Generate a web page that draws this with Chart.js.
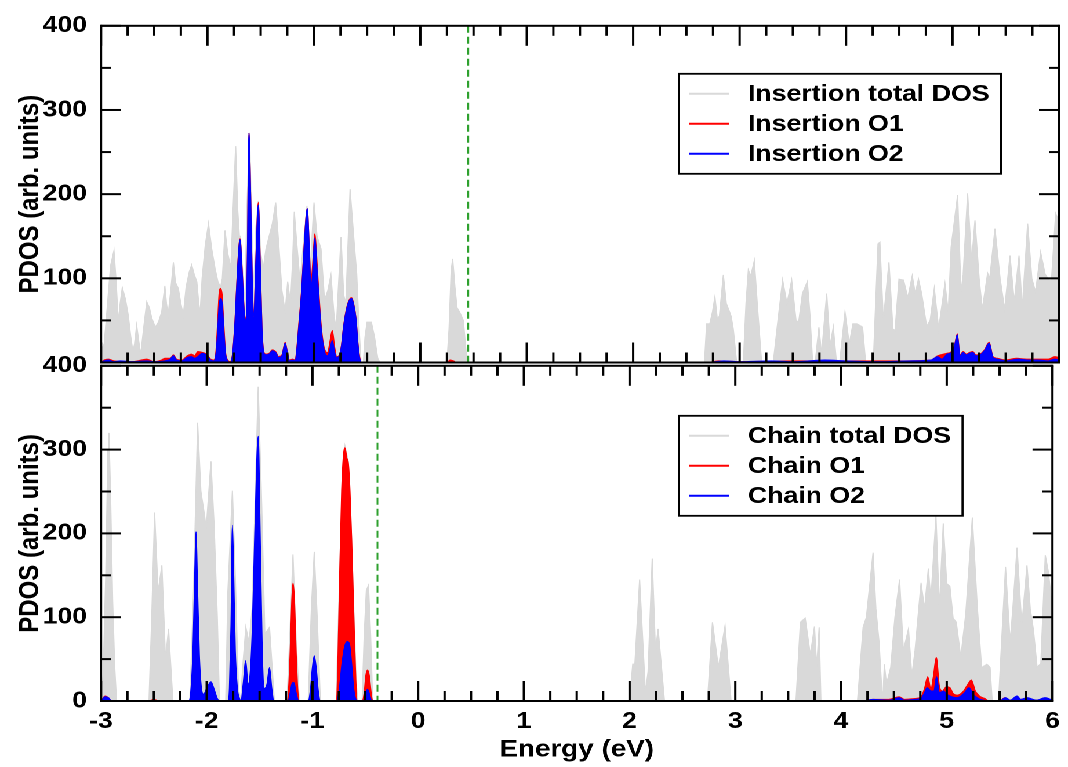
<!DOCTYPE html>
<html>
<head>
<meta charset="utf-8">
<title>PDOS insertion / chain</title>
<script src="https://cdn.jsdelivr.net/npm/chart.js@4.4.0/dist/chart.umd.min.js"></script>
<style>
  html, body { margin: 0; padding: 0; background: #fff; overflow: hidden; }
  /* the original figure is stretched horizontally, so the whole stage is too */
  #stage { position: absolute; left: 0; top: 0; width: 921px; height: 767px;
           transform: scaleX(1.1596); transform-origin: 0 0; }
  #stage canvas { position: absolute; left: 0; }
</style>
</head>
<body>
<div id="stage">
  <canvas id="topPanel" width="921" height="390" style="top:0px"></canvas>
  <canvas id="bottomPanel" width="921" height="427" style="top:340px"></canvas>
</div>
<script>
// ---- data: [energy (eV), PDOS] ----
const fermiInsertion = 0.448;
const fermiChain = -0.385;
const xTicks = [-3, -2, -1, 0, 1, 2, 3, 4, 5, 6];
const yTicks = [0, 100, 200, 300, 400];

const insTotal = [
  [-3.00, 15], [-2.97, 22], [-2.945, 60], [-2.91, 115], [-2.878, 133], [-2.86, 100], [-2.837, 48], [-2.82, 70],
  [-2.80, 89], [-2.77, 75], [-2.744, 56], [-2.72, 30], [-2.70, 13], [-2.685, 22], [-2.665, 44], [-2.645, 25],
  [-2.627, 9], [-2.60, 40], [-2.57, 72], [-2.545, 65], [-2.524, 53], [-2.49, 42], [-2.46, 48], [-2.43, 60],
  [-2.40, 91], [-2.385, 70], [-2.37, 56], [-2.345, 85], [-2.32, 119], [-2.30, 95], [-2.274, 88], [-2.25, 70],
  [-2.227, 56], [-2.20, 90], [-2.17, 108], [-2.148, 116], [-2.125, 105], [-2.10, 96], [-2.085, 75], [-2.07, 56],
  [-2.05, 100], [-2.02, 140], [-1.99, 165], [-1.96, 135], [-1.929, 112], [-1.90, 95], [-1.876, 90], [-1.86, 100],
  [-1.835, 157], [-1.81, 130], [-1.78, 112], [-1.76, 180], [-1.735, 257], [-1.715, 180], [-1.70, 150], [-1.69, 150],
  [-1.67, 110], [-1.65, 65], [-1.63, 180], [-1.605, 273], [-1.585, 170], [-1.567, 80], [-1.545, 160], [-1.522, 192],
  [-1.50, 130], [-1.475, 112], [-1.45, 135], [-1.42, 150], [-1.39, 165], [-1.359, 190], [-1.33, 140], [-1.30, 85],
  [-1.27, 60], [-1.246, 96], [-1.22, 70], [-1.20, 120], [-1.184, 179], [-1.16, 140], [-1.13, 95], [-1.10, 140],
  [-1.065, 186], [-1.035, 110], [-0.999, 190], [-0.97, 150], [-0.933, 135], [-0.90, 74], [-0.87, 85], [-0.84, 104],
  [-0.81, 55], [-0.79, 40], [-0.745, 149], [-0.72, 80], [-0.70, 70], [-0.66, 206], [-0.62, 140], [-0.598, 106],
  [-0.575, 40], [-0.557, 0], [-0.535, 0], [-0.52, 30], [-0.50, 48], [-0.46, 48], [-0.43, 30], [-0.40, 5],
  [-0.38, 0], [0.25, 0], [0.27, 40], [0.29, 110], [0.304, 123], [0.325, 90], [0.345, 65], [0.373, 59],
  [0.404, 50], [0.425, 20], [0.44, 0], [2.67, 0], [2.69, 46], [2.72, 46], [2.745, 60], [2.768, 78],
  [2.79, 52], [2.81, 55], [2.847, 104], [2.875, 70], [2.90, 62], [2.92, 55], [2.94, 40], [2.972, 0],
  [3.035, 0], [3.06, 70], [3.082, 110], [3.105, 103], [3.138, 121], [3.17, 62], [3.207, 0], [3.316, 0],
  [3.36, 50], [3.404, 98], [3.445, 70], [3.489, 98], [3.53, 50], [3.555, 48], [3.59, 82], [3.636, 96],
  [3.66, 58], [3.686, 0], [3.71, 0], [3.745, 42], [3.77, 10], [3.818, 82], [3.85, 20], [3.88, 42],
  [3.91, 0], [3.94, 0], [3.99, 60], [4.03, 22], [4.065, 46], [4.10, 46], [4.13, 44], [4.155, 42],
  [4.184, 0], [4.256, 0], [4.30, 141], [4.318, 143], [4.35, 50], [4.403, 119], [4.44, 40], [4.46, 38],
  [4.497, 99], [4.54, 98], [4.58, 77], [4.622, 103], [4.65, 82], [4.68, 99], [4.71, 82], [4.757, 43],
  [4.79, 50], [4.829, 88], [4.87, 40], [4.929, 94], [4.96, 60], [4.987, 137], [5.048, 199], [5.08, 84],
  [5.10, 104], [5.142, 201], [5.18, 120], [5.211, 169], [5.25, 100], [5.28, 63], [5.33, 106], [5.35, 100],
  [5.399, 159], [5.447, 100], [5.49, 63], [5.54, 127], [5.58, 72], [5.625, 127], [5.655, 64], [5.706, 165],
  [5.745, 100], [5.78, 84], [5.828, 131], [5.87, 105], [5.905, 98], [5.93, 98], [5.969, 177], [6.0, 168]
];

const insO1 = [
  [-3, 0], [-2.97, 3], [-2.93, 4], [-2.88, 2], [-2.70, 1], [-2.57, 4], [-2.50, 1], [-2.43, 3],
  [-2.40, 5], [-2.35, 5], [-2.32, 9], [-2.29, 4], [-2.24, 3], [-2.19, 8], [-2.15, 10], [-2.12, 8],
  [-2.09, 13], [-2.05, 12], [-2.01, 10], [-1.97, 4], [-1.94, 3], [-1.92, 13], [-1.905, 45], [-1.89, 82],
  [-1.876, 88], [-1.862, 80], [-1.845, 42], [-1.83, 12], [-1.81, 3], [-1.785, 1], [-1.775, 3], [-1.763, 11],
  [-1.74, 52], [-1.715, 117], [-1.694, 147], [-1.675, 112], [-1.655, 62], [-1.64, 52], [-1.625, 122], [-1.61, 273],
  [-1.595, 202], [-1.58, 102], [-1.563, 56], [-1.545, 122], [-1.522, 190], [-1.505, 123], [-1.488, 42], [-1.469, 12],
  [-1.45, 10], [-1.42, 11], [-1.39, 15], [-1.36, 13], [-1.33, 7], [-1.30, 9], [-1.27, 24], [-1.25, 13],
  [-1.23, 3], [-1.20, 4], [-1.175, 3], [-1.16, 17], [-1.14, 48], [-1.114, 88], [-1.09, 142], [-1.062, 183],
  [-1.045, 142], [-1.027, 95], [-1.015, 110], [-0.99, 153], [-0.975, 128], [-0.958, 92], [-0.93, 42], [-0.90, 16],
  [-0.87, 12], [-0.85, 24], [-0.827, 38], [-0.805, 18], [-0.785, 7], [-0.76, 9], [-0.74, 21], [-0.72, 44],
  [-0.69, 66], [-0.665, 75], [-0.645, 77], [-0.625, 69], [-0.605, 53], [-0.585, 21], [-0.565, 3], [-0.55, 0],
  [0.25, 0], [0.28, 3], [0.31, 2], [0.34, 0], [2.7, 0], [2.8, 2], [3.0, 1], [3.5, 2],
  [4.0, 2], [4.5, 2], [4.8, 3], [4.86, 8], [4.95, 11], [4.99, 13], [5.02, 21], [5.045, 34],
  [5.07, 9], [5.10, 13], [5.13, 10], [5.16, 12], [5.19, 13], [5.22, 9], [5.26, 10], [5.30, 15],
  [5.345, 24], [5.38, 7], [5.42, 5], [5.5, 3], [5.6, 5], [5.7, 4], [5.8, 4], [5.9, 4],
  [5.96, 7], [6.0, 6]
];

const insO2 = [
  [-3, 0], [-2.97, 2], [-2.93, 3], [-2.88, 1], [-2.82, 2], [-2.70, 1], [-2.57, 2], [-2.50, 1],
  [-2.40, 2], [-2.35, 4], [-2.32, 8], [-2.29, 3], [-2.24, 2], [-2.19, 6], [-2.15, 7], [-2.12, 5],
  [-2.08, 8], [-2.05, 11], [-2.01, 9], [-1.97, 3], [-1.94, 2], [-1.92, 10], [-1.905, 35], [-1.89, 68],
  [-1.876, 76], [-1.86, 68], [-1.845, 35], [-1.83, 10], [-1.81, 2], [-1.785, 0], [-1.775, 2], [-1.763, 10],
  [-1.74, 50], [-1.715, 115], [-1.694, 146], [-1.675, 110], [-1.655, 60], [-1.64, 50], [-1.625, 120], [-1.61, 273],
  [-1.595, 200], [-1.58, 100], [-1.563, 54], [-1.545, 120], [-1.522, 187], [-1.505, 120], [-1.488, 40], [-1.469, 11],
  [-1.45, 9], [-1.42, 10], [-1.39, 14], [-1.36, 12], [-1.33, 6], [-1.30, 8], [-1.27, 23], [-1.25, 12],
  [-1.23, 2], [-1.20, 3], [-1.175, 2], [-1.16, 15], [-1.14, 45], [-1.114, 86], [-1.09, 140], [-1.062, 183],
  [-1.045, 140], [-1.027, 86], [-1.015, 100], [-0.99, 148], [-0.975, 120], [-0.958, 86], [-0.93, 38], [-0.90, 13],
  [-0.87, 8], [-0.85, 15], [-0.827, 26], [-0.805, 12], [-0.785, 6], [-0.76, 8], [-0.74, 20], [-0.72, 43],
  [-0.69, 65], [-0.665, 74], [-0.645, 76], [-0.625, 68], [-0.605, 52], [-0.585, 20], [-0.565, 2], [-0.55, 0],
  [2.7, 0], [2.85, 2], [3.0, 1], [3.3, 2], [3.5, 1], [3.8, 3], [4.0, 2], [4.3, 1],
  [4.6, 2], [4.8, 3], [4.86, 7], [4.9, 4], [4.95, 10], [4.99, 12], [5.02, 20], [5.045, 33],
  [5.07, 8], [5.10, 12], [5.13, 9], [5.16, 11], [5.19, 12], [5.22, 8], [5.26, 9], [5.30, 14],
  [5.345, 23], [5.38, 6], [5.42, 4], [5.5, 2], [5.62, 4], [5.70, 3], [5.8, 3], [5.9, 2],
  [5.96, 4], [6.0, 3]
];

const chainTotal = [
  [-3.0, 0], [-2.98, 30], [-2.955, 150], [-2.935, 300], [-2.925, 320], [-2.91, 250], [-2.89, 120], [-2.87, 40],
  [-2.853, 0], [-2.546, 0], [-2.52, 100], [-2.493, 225], [-2.46, 130], [-2.424, 162], [-2.39, 50], [-2.361, 86],
  [-2.32, 0], [-2.16, 0], [-2.125, 130], [-2.086, 332], [-2.055, 250], [-2.02, 221], [-2.005, 205], [-1.96, 286],
  [-1.93, 210], [-1.90, 100], [-1.88, 0], [-1.82, 0], [-1.80, 130], [-1.757, 251], [-1.73, 150], [-1.70, 15],
  [-1.68, 0], [-1.66, 40], [-1.63, 88], [-1.60, 70], [-1.57, 110], [-1.54, 250], [-1.513, 375], [-1.48, 235],
  [-1.45, 80], [-1.406, 88], [-1.36, 0], [-1.24, 0], [-1.21, 90], [-1.184, 175], [-1.16, 90], [-1.125, 0],
  [-1.04, 0], [-1.01, 110], [-0.983, 178], [-0.955, 100], [-0.925, 0], [-0.775, 0], [-0.745, 140], [-0.72, 255],
  [-0.692, 304], [-0.661, 286], [-0.63, 195], [-0.605, 95], [-0.585, 20], [-0.57, 0], [-0.53, 0], [-0.51, 80],
  [-0.49, 132], [-0.47, 138], [-0.45, 80], [-0.43, 0], [2.0, 0], [2.03, 44], [2.05, 44], [2.095, 145],
  [2.15, 10], [2.175, 35], [2.214, 170], [2.245, 60], [2.27, 86], [2.33, 0], [2.737, 0], [2.784, 94],
  [2.84, 40], [2.903, 90], [2.96, 0], [3.574, 0], [3.616, 94], [3.661, 99], [3.71, 55], [3.749, 89],
  [3.77, 40], [3.793, 88], [3.81, 0], [4.156, 0], [4.18, 40], [4.209, 88], [4.24, 100], [4.303, 177],
  [4.33, 110], [4.36, 70], [4.385, 15], [4.395, 0], [4.41, 44], [4.43, 20], [4.47, 40], [4.51, 100],
  [4.554, 145], [4.59, 60], [4.638, 86], [4.67, 30], [4.70, 60], [4.757, 141], [4.79, 110], [4.826, 158],
  [4.85, 120], [4.898, 221], [4.93, 110], [4.967, 212], [5.00, 140], [5.03, 137], [5.06, 99], [5.09, 94],
  [5.133, 52], [5.18, 104], [5.242, 219], [5.29, 110], [5.33, 40], [5.38, 44], [5.41, 40], [5.43, 0],
  [5.49, 0], [5.556, 160], [5.60, 70], [5.625, 110], [5.665, 183], [5.71, 90], [5.759, 162], [5.79, 110],
  [5.82, 85], [5.855, 40], [5.89, 45], [5.932, 174], [5.96, 155], [6.0, 110]
];

const chainO1 = [
  [-3.0, 0], [-2.96, 6], [-2.93, 4], [-2.90, 0], [-2.55, 0], [-2.50, 2], [-2.45, 0], [-1.24, 0],
  [-1.225, 15], [-1.21, 60], [-1.195, 120], [-1.184, 141], [-1.17, 120], [-1.155, 60], [-1.14, 15], [-1.125, 0],
  [-0.775, 0], [-0.76, 40], [-0.745, 133], [-0.723, 251], [-0.70, 300], [-0.692, 302], [-0.675, 290], [-0.661, 284],
  [-0.645, 250], [-0.629, 192], [-0.607, 94], [-0.59, 25], [-0.575, 0], [-0.53, 0], [-0.51, 10], [-0.495, 30],
  [-0.479, 37], [-0.462, 30], [-0.445, 10], [-0.43, 0], [4.2, 0], [4.3, 2], [4.45, 2], [4.55, 5],
  [4.6, 2], [4.7, 3], [4.757, 5], [4.79, 15], [4.82, 29], [4.85, 14], [4.875, 30], [4.901, 52],
  [4.93, 18], [4.96, 12], [4.996, 17], [5.03, 16], [5.06, 9], [5.10, 7], [5.16, 12], [5.20, 20],
  [5.233, 25], [5.27, 12], [5.31, 6], [5.36, 3], [5.4, 0], [5.5, 0], [5.55, 4], [5.6, 1],
  [5.66, 3], [5.7, 2], [5.76, 3], [5.85, 1], [5.93, 3], [6.0, 1]
];

const chainO2 = [
  [-3.0, 0], [-2.96, 5], [-2.93, 4], [-2.90, 0], [-2.17, 0], [-2.15, 12], [-2.13, 60], [-2.115, 140],
  [-2.101, 202], [-2.088, 140], [-2.07, 55], [-2.05, 15], [-2.03, 8], [-2.00, 15], [-1.96, 23], [-1.93, 14],
  [-1.90, 3], [-1.88, 0], [-1.80, 0], [-1.785, 15], [-1.77, 90], [-1.757, 210], [-1.745, 150], [-1.73, 60],
  [-1.71, 15], [-1.69, 3], [-1.675, 0], [-1.655, 20], [-1.631, 48], [-1.61, 20], [-1.595, 25], [-1.57, 80],
  [-1.545, 200], [-1.513, 316], [-1.495, 200], [-1.475, 60], [-1.455, 15], [-1.43, 20], [-1.406, 40], [-1.385, 15],
  [-1.365, 0], [-1.23, 0], [-1.21, 10], [-1.19, 22], [-1.175, 22], [-1.155, 10], [-1.13, 0], [-1.04, 0],
  [-1.02, 12], [-1.00, 40], [-0.983, 54], [-0.965, 40], [-0.945, 12], [-0.925, 0], [-0.77, 0], [-0.745, 15],
  [-0.72, 45], [-0.695, 65], [-0.67, 71], [-0.65, 68], [-0.63, 45], [-0.61, 15], [-0.59, 2], [-0.575, 0],
  [-0.52, 0], [-0.50, 8], [-0.479, 14], [-0.46, 8], [-0.44, 0], [4.2, 0], [4.3, 2], [4.45, 1],
  [4.55, 4], [4.6, 1], [4.7, 2], [4.757, 3], [4.79, 10], [4.815, 16], [4.85, 12], [4.88, 12],
  [4.903, 29], [4.93, 10], [4.97, 12], [5.00, 8], [5.05, 5], [5.10, 4], [5.17, 10], [5.21, 16],
  [5.25, 8], [5.30, 3], [5.35, 1], [5.4, 0], [5.5, 0], [5.556, 4], [5.6, 1], [5.665, 6],
  [5.7, 2], [5.76, 4], [5.85, 1], [5.93, 4], [6.0, 1]
];

// ---- styling ----
const GRAY = "#d9d9d9";
const RED = "#ff0000";
const BLUE = "#0000ff";
const FONT = "'Liberation Sans', Arial, Helvetica, sans-serif";
const tickFont = { family: FONT, size: 23, weight: "bold" };
const titleFont = { family: FONT, size: 24, weight: "bold" };

function series(label, pts, color, order, smooth) {
  return {
    label: label,
    data: pts.map(([x, y]) => ({ x: x, y: y })),
    borderColor: color,
    backgroundColor: color,
    borderWidth: 1,
    fill: "origin",
    pointRadius: 0,
    order: order,
    tension: 0,
    cubicInterpolationMode: smooth ? "monotone" : "default",
  };
}

function strokeLine(ctx, x1, y1, x2, y2) {
  ctx.beginPath();
  ctx.moveTo(x1, y1);
  ctx.lineTo(x2, y2);
  ctx.stroke();
}

// Fermi level, boxed legend, then frame with inward ticks drawn last
const gracePanel = {
  id: "gracePanel",
  afterDraw(chart, args, opts) {
    const ctx = chart.ctx;
    const a = chart.chartArea;
    const L = a.left, R = a.right, T = a.top, B = a.bottom;
    const sets = chart.data.datasets;

    ctx.save();
    ctx.globalCompositeOperation = "source-over";
    ctx.globalAlpha = 1;

    // Fermi level
    const fx = chart.scales.x.getPixelForValue(opts.fermi);
    ctx.strokeStyle = "#2ea02e";
    ctx.lineWidth = opts.fermiWidth;
    ctx.setLineDash([7, 4]);
    strokeLine(ctx, fx, T, fx, B);
    ctx.setLineDash([]);

    // legend box
    const left = L + 498.4;
    const top = T + opts.legendTop;
    ctx.font = "bold 23px " + FONT;
    const w = Math.max(...sets.map((d) => ctx.measureText(d.label).width));
    const boxW = 59.5 + w + 10;
    ctx.fillStyle = "#ffffff";
    ctx.fillRect(left, top, boxW, 100);
    ctx.strokeStyle = "#000000";
    ctx.lineWidth = 1.8;
    ctx.strokeRect(left, top, boxW, 100);
    ctx.textBaseline = "middle";
    ctx.textAlign = "left";
    sets.forEach((d, i) => {
      const ry = top + 20 + i * 30;
      ctx.strokeStyle = d.borderColor;
      ctx.lineWidth = 2;
      strokeLine(ctx, left + 9, ry, left + 43, ry);
      ctx.fillStyle = "#000000";
      ctx.fillText(d.label, left + 59.5, ry + 1);
    });

    // inward ticks: 36 quarter-eV steps across x, 8 steps of 50 across y
    ctx.fillStyle = "#000000";
    for (let i = 0; i <= 36; i++) {
      const px = L + (R - L) * i / 36;
      const len = (i % 4 === 0) ? 20 : 10;
      ctx.fillRect(px - 1, T, 2, len);
      ctx.fillRect(px - 1, B - len, 2, len);
    }
    for (let k = 0; k <= 8; k++) {
      const py = B - (B - T) * k / 8;
      const len = (k % 2 === 0) ? 17.2 : 8.6;
      ctx.fillRect(L, py - 1, len, 2);
      ctx.fillRect(R - len, py - 1, len, 2);
    }

    // frame
    ctx.fillRect(L - 1, T - 1, R - L + 2, 2);
    ctx.fillRect(L - 1, B - 1, R - L + 2, 2);
    ctx.fillRect(L - 1, T - 1, 2, B - T + 2);
    ctx.fillRect(R - 1, T - 1, 2, B - T + 2);
    ctx.restore();
  },
};

function yScale(hideZero) {
  return {
    min: yTicks[0],
    max: yTicks[yTicks.length - 1],
    grid: { display: false, drawTicks: false },
    border: { display: false },
    ticks: {
      stepSize: 100,
      padding: 12,
      font: tickFont,
      color: "#000",
      callback: (v) => (hideZero && v === 0 ? "" : v),
    },
    title: {
      display: true,
      text: "PDOS (arb. units)",
      font: titleFont,
      color: "#000",
      padding: { top: 12, bottom: 0 },
    },
    afterFit: (s) => { s.width = 87.1; },
  };
}

new Chart(document.getElementById("topPanel"), {
  type: "line",
  data: {
    datasets: [
      series("Insertion total DOS", insTotal, GRAY, 3, false),
      series("Insertion O1", insO1, RED, 2, true),
      series("Insertion O2", insO2, BLUE, 1, true),
    ],
  },
  options: {
    responsive: false,
    animation: false,
    devicePixelRatio: 2,
    events: [],
    layout: { padding: { top: 25, bottom: 27.5, left: 0, right: 7.8 } },
    plugins: {
      legend: { display: false },
      tooltip: { enabled: false },
      gracePanel: { fermi: fermiInsertion, fermiWidth: 2, legendTop: 48 },
    },
    scales: {
      x: { type: "linear", min: xTicks[0], max: xTicks[xTicks.length - 1], display: false },
      y: yScale(true),
    },
  },
  plugins: [gracePanel],
});

new Chart(document.getElementById("bottomPanel"), {
  type: "line",
  data: {
    datasets: [
      series("Chain total DOS", chainTotal, GRAY, 3, false),
      series("Chain O1", chainO1, RED, 2, true),
      series("Chain O2", chainO2, BLUE, 1, true),
    ],
  },
  options: {
    responsive: false,
    animation: false,
    devicePixelRatio: 2,
    events: [],
    layout: { padding: { top: 22, bottom: 0, left: 0, right: 7.8 } },
    plugins: {
      legend: { display: false },
      tooltip: { enabled: false },
      gracePanel: { fermi: fermiChain, fermiWidth: 1.5, legendTop: 50 },
    },
    scales: {
      x: {
        type: "linear",
        min: xTicks[0],
        max: xTicks[xTicks.length - 1],
        grid: { display: false, drawTicks: false },
        border: { display: false },
        ticks: { stepSize: 1, padding: 7, autoSkip: false, maxRotation: 0, font: tickFont, color: "#000" },
        title: { display: true, text: "Energy (eV)", font: titleFont, color: "#000", padding: { top: 0, bottom: 2.6 } },
        afterFit: (s) => { s.height = 66; },
      },
      y: yScale(false),
    },
  },
  plugins: [gracePanel],
});
</script>
</body>
</html>
